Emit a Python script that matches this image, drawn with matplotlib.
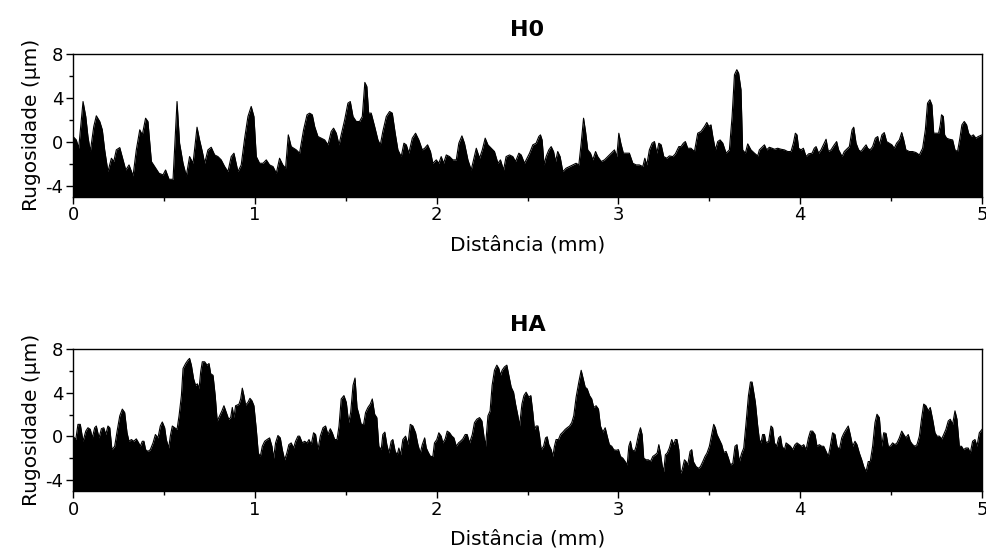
import matplotlib
matplotlib.use("Agg")
import matplotlib.pyplot as plt
from matplotlib.ticker import MultipleLocator

plt.rcParams["axes.unicode_minus"] = False

# H0 profile: distance (mm) and roughness (um)
h0_dist = [0.000, 0.018, 0.031, 0.055, 0.070, 0.082, 0.095, 0.114, 0.128, 0.147, 0.161, 0.174, 0.192, 0.211, 0.224,
           0.238, 0.257, 0.275, 0.290, 0.308, 0.330, 0.348, 0.367, 0.381, 0.399, 0.412, 0.431, 0.449, 0.473, 0.495,
           0.509, 0.528, 0.550, 0.572, 0.586, 0.605, 0.623, 0.641, 0.660, 0.682, 0.696, 0.711, 0.724, 0.742, 0.760,
           0.779, 0.797, 0.815, 0.834, 0.852, 0.870, 0.885, 0.907, 0.925, 0.944, 0.962, 0.980, 0.995, 1.008, 1.026,
           1.045, 1.063, 1.081, 1.100, 1.118, 1.136, 1.154, 1.169, 1.184, 1.200, 1.228,
           1.246, 1.268, 1.287, 1.301, 1.316, 1.329, 1.347, 1.365, 1.384, 1.402, 1.420, 1.433, 1.448, 1.463, 1.475,
           1.494, 1.512, 1.525, 1.540, 1.558, 1.576, 1.591, 1.605, 1.616, 1.626, 1.640, 1.659, 1.677, 1.690, 1.704,
           1.723, 1.741, 1.756, 1.772, 1.787, 1.805, 1.820, 1.833, 1.847, 1.866, 1.884, 1.902, 1.921, 1.934, 1.950,
           1.966, 1.979, 1.998, 2.012, 2.025, 2.038, 2.053, 2.071, 2.089, 2.108, 2.122, 2.139, 2.153, 2.172, 2.190,
           2.203, 2.218, 2.236, 2.251, 2.267, 2.282, 2.300, 2.318, 2.337, 2.351, 2.368, 2.382, 2.401, 2.419, 2.434,
           2.452, 2.465, 2.483, 2.502,
           2.511, 2.529, 2.547, 2.562, 2.571, 2.580, 2.591, 2.602, 2.617, 2.630, 2.643, 2.654, 2.666, 2.679, 2.694,
           2.712, 2.731, 2.749, 2.767, 2.782, 2.795, 2.808, 2.819, 2.831, 2.846, 2.859, 2.874, 2.886, 2.905, 2.923,
           2.941, 2.960, 2.978, 2.991, 3.002, 3.013, 3.027, 3.042, 3.060, 3.079, 3.097, 3.115, 3.134, 3.145, 3.156,
           3.170, 3.185, 3.198, 3.211, 3.222, 3.235, 3.249, 3.266, 3.280, 3.299, 3.313, 3.332, 3.344, 3.357, 3.368,
           3.381, 3.399, 3.418, 3.436, 3.454, 3.473, 3.486, 3.497, 3.509, 3.519, 3.533, 3.546, 3.559, 3.574, 3.592,
           3.610, 3.625, 3.638, 3.651, 3.661, 3.674, 3.683, 3.698, 3.711, 3.729, 3.748, 3.766,
           3.775, 3.790, 3.803, 3.815, 3.830, 3.845, 3.858, 3.876, 3.894, 3.913, 3.931, 3.949, 3.962, 3.973, 3.982,
           3.991, 4.004, 4.017, 4.032, 4.046, 4.065, 4.077, 4.087, 4.101, 4.114, 4.132, 4.142, 4.154, 4.169, 4.187,
           4.200, 4.211, 4.230, 4.242, 4.255, 4.270, 4.285, 4.294, 4.307, 4.321, 4.334, 4.347, 4.362, 4.371, 4.384,
           4.398, 4.413, 4.426, 4.435, 4.449, 4.462, 4.475, 4.490, 4.504, 4.517, 4.530, 4.545, 4.558, 4.569, 4.581,
           4.600, 4.618, 4.636, 4.655, 4.673, 4.688, 4.700, 4.713, 4.724, 4.734, 4.746, 4.761, 4.770, 4.777, 4.787,
           4.794, 4.805, 4.820, 4.838, 4.851, 4.865, 4.878, 4.889, 4.902, 4.915, 4.926, 4.939, 4.952, 4.966, 4.979,
           5.000]
h0_rug = [0.48, 0.17, -0.59, 3.67, 2.30, 0.48, -0.89, 1.39, 2.37, 1.85, 1.09, -0.74, -2.72, -1.50, -1.80,
          -0.74, -0.53, -1.65, -2.57, -2.11, -3.11, -0.74, 1.09, 0.63, 2.15, 1.85, -1.80, -2.26, -2.87, -3.02,
          -2.57, -3.42, -3.42, 3.67, -0.13, -1.96, -3.11, -1.35, -1.96, 1.33, 0.17, -0.89, -1.96, -0.74, -0.50,
          -1.20, -1.35, -1.65, -2.26, -2.72, -1.35, -1.04, -2.72, -2.11, 0.33, 2.30, 3.22, 2.30, -1.35, -1.96,
          -1.96, -1.65, -2.11, -2.26, -2.87, -1.50, -2.11, -2.41, 0.63, -0.44, -0.74,
          -1.04, 1.09, 2.46, 2.61, 2.46, 1.39, 0.48, 0.33, 0.17, -0.28, 0.94, 1.24, 0.78, -0.28, 0.63,
          2.00, 3.52, 3.67, 2.30, 1.85, 1.85, 2.30, 5.41, 5.04, 2.61, 2.61, 1.39, 0.17, -0.28, 0.94,
          2.30, 2.76, 2.61, 0.78, -0.74, -1.35, -0.13, -0.28, -1.04, 0.33, 0.78, 0.17, -0.74, -0.59, -0.28,
          -0.89, -1.96, -1.65, -1.96, -1.35, -1.96, -1.20, -1.35, -1.65, -1.65, -0.13, 0.54, -0.13, -1.65, -2.57,
          -1.65, -0.59, -1.50, -0.74, 0.33, -0.28, -0.59, -0.89, -1.96, -1.65, -2.57, -1.35, -1.20, -1.35, -1.80,
          -1.04, -1.20, -1.96, -1.35,
          -1.04, -0.28, -0.13, 0.48, 0.63, 0.17, -2.11, -1.35, -0.74, -0.44, -0.89, -1.80, -0.89, -1.35, -2.72,
          -2.41, -2.26, -2.11, -1.96, -2.11, -0.13, 2.15, 0.94, -0.74, -1.04, -1.65, -0.89, -1.35, -1.80, -1.65,
          -1.35, -1.04, -0.74, -1.35, 0.78, -0.13, -1.04, -1.04, -1.04, -1.96, -2.11, -2.11, -2.26, -1.50, -2.11,
          -0.74, -0.13, 0.02, -1.04, -0.13, -0.28, -1.35, -1.50, -1.29, -1.35, -1.10, -0.44, -0.44, -0.13, 0.02,
          -0.59, -0.59, -0.89, 0.78, 0.94, 1.39, 1.76, 1.39, 1.54, 0.48, -0.74, 0.02, 0.17, -0.13, -1.04,
          -0.74, 2.30, 6.11, 6.57, 6.26, 4.74, -0.74, -1.04, -0.19, -0.74, -1.04, -1.29,
          -0.74, -0.50, -0.28, -0.74, -0.50, -0.59, -0.68, -0.59, -0.68, -0.74, -0.89, -0.89, -0.13, 0.78, 0.63,
          -0.59, -0.74, -0.59, -1.35, -1.10, -1.04, -0.59, -0.44, -1.04, -0.74, -0.13, 0.23, -0.89, -0.74, -0.28,
          0.02, -0.74, -1.35, -0.89, -0.68, -0.44, 1.09, 1.33, -0.13, -0.74, -0.89, -0.59, -0.28, -0.59, -0.74,
          -0.44, 0.33, 0.48, -0.28, 0.63, 0.84, 0.02, -0.13, -0.28, -0.59, -0.13, 0.17, 0.84, 0.17, -0.74,
          -0.89, -0.89, -0.98, -1.20, -0.59, 1.09, 3.52, 3.83, 3.37, 0.78, 0.78, 0.78, 1.54, 2.46, 2.30,
          0.63, 0.33, 0.23, 0.17, -0.74, -0.89, 0.33, 1.54, 1.85, 1.54, 0.78, 0.48, 0.63, 0.33, 0.48,
          0.63]

# HA profile: distance (mm) and roughness (um)
ha_dist = [0.000, 0.015, 0.027, 0.040, 0.055, 0.070, 0.082, 0.095, 0.106, 0.119, 0.128, 0.143, 0.156, 0.169, 0.180,
           0.192, 0.202, 0.214, 0.229, 0.244, 0.257, 0.271, 0.284, 0.297, 0.308, 0.321, 0.334, 0.348, 0.361, 0.370,
           0.381, 0.390, 0.399, 0.412, 0.425, 0.440, 0.453, 0.467, 0.480, 0.491, 0.504, 0.513, 0.526, 0.535, 0.546,
           0.559, 0.572, 0.583, 0.596, 0.605, 0.619, 0.632, 0.641, 0.651, 0.663, 0.674, 0.684, 0.693, 0.702, 0.711,
           0.724, 0.737, 0.748, 0.757, 0.770, 0.782, 0.793, 0.806, 0.819, 0.830, 0.843, 0.856, 0.867, 0.876, 0.885,
           0.894, 0.903, 0.913, 0.922, 0.931, 0.940, 0.949, 0.962, 0.973, 0.984, 0.995, 1.008, 1.019, 1.030, 1.041,
           1.054, 1.067, 1.081, 1.094, 1.103, 1.114, 1.127, 1.140, 1.151, 1.164, 1.176, 1.187, 1.200, 1.213, 1.224,
           1.237,
           1.246, 1.261, 1.274, 1.287, 1.298, 1.310, 1.323, 1.334, 1.347, 1.360, 1.375, 1.389, 1.402, 1.415, 1.426,
           1.439, 1.452, 1.463, 1.475, 1.490, 1.503, 1.516, 1.527, 1.540, 1.551, 1.562, 1.572, 1.585, 1.598, 1.609,
           1.622, 1.635, 1.646, 1.659, 1.671, 1.682, 1.695, 1.704, 1.715, 1.726, 1.737, 1.750, 1.759, 1.772, 1.783,
           1.792, 1.802, 1.814, 1.829, 1.842, 1.855, 1.869, 1.884, 1.897, 1.910, 1.921, 1.934, 1.943, 1.954, 1.966,
           1.979, 1.988, 2.001, 2.012, 2.025, 2.034, 2.047, 2.058, 2.071, 2.084, 2.095, 2.108, 2.120, 2.131, 2.144,
           2.157, 2.168, 2.181, 2.196, 2.208, 2.221, 2.236, 2.249, 2.260, 2.269, 2.282, 2.294, 2.305, 2.318, 2.331,
           2.342, 2.351, 2.360, 2.373, 2.386, 2.397, 2.410, 2.423, 2.434, 2.447, 2.456, 2.469, 2.480, 2.492, 2.507,
           2.518,
           2.529, 2.538, 2.547, 2.557, 2.566, 2.575, 2.588, 2.599, 2.608, 2.617, 2.630, 2.639, 2.648, 2.657, 2.670,
           2.681, 2.694, 2.707, 2.718, 2.731, 2.743, 2.754, 2.767, 2.782, 2.795, 2.804, 2.817, 2.828, 2.841, 2.853,
           2.864, 2.877, 2.890, 2.901, 2.914, 2.927, 2.938, 2.950, 2.963, 2.974, 2.987, 3.000, 3.011, 3.024, 3.037,
           3.048, 3.057, 3.066, 3.075, 3.088, 3.097, 3.110, 3.121, 3.130, 3.139, 3.152, 3.165, 3.176, 3.189, 3.202,
           3.213, 3.222, 3.231, 3.240, 3.249, 3.258, 3.268, 3.280, 3.293, 3.304, 3.313, 3.322, 3.332, 3.341, 3.350,
           3.363, 3.372, 3.381, 3.394, 3.403, 3.412, 3.427, 3.440, 3.451, 3.464, 3.476, 3.487, 3.500, 3.513, 3.524,
           3.533, 3.542, 3.555, 3.568, 3.579, 3.592, 3.605, 3.616, 3.629, 3.641, 3.652, 3.665, 3.678, 3.689, 3.702,
           3.715, 3.726, 3.735, 3.744, 3.753, 3.766,
           3.775, 3.784, 3.793, 3.803, 3.812, 3.826, 3.839, 3.848, 3.858, 3.870, 3.881, 3.891, 3.900, 3.913, 3.922,
           3.935, 3.946, 3.958, 3.971, 3.982, 3.995, 4.008, 4.019, 4.032, 4.045, 4.056, 4.068, 4.081, 4.092, 4.105,
           4.118, 4.129, 4.142, 4.154, 4.165, 4.178, 4.191, 4.202, 4.215, 4.228, 4.239, 4.252, 4.264, 4.275, 4.288,
           4.301, 4.312, 4.325, 4.338, 4.349, 4.362, 4.374, 4.385, 4.398, 4.411, 4.422, 4.435, 4.448, 4.459, 4.472,
           4.484, 4.495, 4.508, 4.521, 4.532, 4.545, 4.558, 4.569, 4.581, 4.594, 4.605, 4.618, 4.631, 4.642, 4.655,
           4.668, 4.679, 4.691, 4.704, 4.715, 4.728, 4.741, 4.752, 4.765, 4.778, 4.789, 4.801, 4.814, 4.825, 4.838,
           4.851, 4.862, 4.875, 4.887, 4.898, 4.911, 4.924, 4.935, 4.948, 4.961, 4.972, 4.985, 5.000]
ha_rug = [0.03, -0.28, 1.11, 1.11, -0.44, 0.49, 0.80, 0.65, -0.13, 0.80, 0.96, -0.13, 0.71, 0.80, 0.18,
          0.96, 0.80, -1.21, -0.90, 0.65, 1.89, 2.51, 2.20, 0.34, -0.44, -0.28, -0.44, -0.22, -0.59, -0.90,
          -0.44, -0.44, -1.21, -1.37, -1.21, -0.59, 0.18, -0.13, 0.96, 1.33, 0.80, -0.28, -1.06, 0.03, 0.96,
          0.80, 0.65, 1.89, 3.75, 6.23, 6.69, 7.00, 7.16, 6.54, 5.30, 4.68, 4.83, 4.37, 5.92, 6.85,
          6.85, 6.54, 6.69, 5.76, 5.61, 3.75, 1.42, 1.89, 2.35, 2.82, 2.20, 1.58, 1.73, 2.66, 1.73,
          2.82, 2.88, 2.97, 3.44, 4.43, 3.75, 2.88, 3.13, 3.50, 3.28, 2.82, 0.65, -1.52, -1.83, -0.90,
          -0.44, -0.28, -0.13, -0.90, -1.99, -0.59, 0.09, -0.13, -1.21, -2.14, -1.52, -0.75, -0.59, -1.06, -0.44,
          0.03,
          0.03, -0.59, -0.44, -0.59, -0.28, -0.75, 0.34, 0.18, -1.21, 0.03, 0.80, 0.96, 0.18, 0.71, 0.34,
          -0.28, -0.28, 0.96, 3.44, 3.75, 3.13, 1.27, 2.20, 4.68, 5.36, 2.66, 2.04, 1.11, 1.11, 2.20,
          2.66, 2.97, 3.44, 2.04, 1.73, -0.90, -1.21, 0.18, 0.40, -0.75, -1.52, -0.44, -0.28, -1.37, -1.68,
          -1.06, -1.68, -0.28, 0.03, -0.75, 1.11, 0.96, 0.34, -0.75, -1.52, -0.75, -0.13, -1.06, -1.46, -1.83,
          -1.83, -0.59, -0.28, 0.34, 0.03, -0.59, -0.22, 0.49, 0.34, 0.03, -0.13, -0.90, -0.59, -0.44, -0.22,
          0.18, 0.18, -0.59, 0.18, 1.27, 1.58, 1.73, 1.42, 0.03, -0.90, 1.89, 2.35, 4.68, 6.07, 6.54,
          6.23, 5.61, 6.07, 6.38, 6.54, 5.61, 4.52, 4.06, 2.97, 1.89, 0.96, 2.97, 3.75, 4.06, 3.59,
          3.75,
          2.20, 0.65, 0.96, 0.96, 0.03, -1.21, -0.90, -0.13, -0.03, -0.75, -1.21, -1.83, -0.90, -0.28, -0.28,
          0.18, 0.40, 0.65, 0.80, 0.96, 1.27, 1.89, 3.59, 4.99, 6.07, 5.45, 4.52, 4.37, 3.75, 3.44,
          2.66, 2.82, 2.51, 0.96, 0.40, 0.80, 0.03, -0.75, -0.90, -1.21, -1.27, -1.21, -1.83, -1.99, -2.30,
          -2.61, -0.90, -0.44, -1.21, -1.37, -0.90, 0.18, 0.80, 0.18, -1.99, -2.14, -2.14, -2.30, -1.83, -1.68,
          -1.52, -0.75, -1.52, -2.61, -3.23, -1.68, -1.52, -1.06, -0.28, -0.75, -0.28, -0.28, -1.21, -3.38, -3.07,
          -2.14, -2.30, -2.61, -1.37, -1.21, -2.30, -2.76, -2.92, -2.76, -2.30, -1.83, -1.52, -0.90, 0.18, 1.11,
          0.80, 0.18, -0.28, -0.75, -1.46, -1.37, -1.99, -2.61, -2.45, -0.90, -0.75, -2.30, -1.52, -1.06, 1.27,
          3.75, 4.99, 4.99, 4.06, 3.13, 0.96,
          -0.28, -0.59, 0.18, 0.18, -0.59, -0.44, 0.96, 0.80, -0.59, -0.90, -0.13, 0.03, -0.90, -1.21, -0.59,
          -0.75, -0.90, -1.21, -0.75, -0.59, -0.75, -0.90, -0.75, -1.21, -0.13, 0.49, 0.49, 0.18, -0.90, -0.75,
          -0.90, -0.90, -1.37, -1.83, -0.90, 0.34, 0.18, -0.90, -1.21, -0.13, 0.28, 0.65, 0.96, 0.18, -0.90,
          -0.44, -0.75, -1.52, -2.14, -2.76, -3.23, -2.30, -2.30, -0.90, 1.27, 2.04, 1.73, -0.90, 0.34, 0.28,
          -0.90, -0.90, -0.59, -0.75, -0.59, -0.13, 0.49, 0.18, -0.13, 0.18, -0.44, -0.75, -0.90, -0.75, 0.03,
          1.73, 2.97, 2.82, 2.35, 2.66, 1.58, 0.34, 0.03, 0.03, -0.22, 0.18, 0.65, 1.42, 1.58, 1.11,
          2.35, 1.58, -0.90, -0.90, -1.21, -1.06, -1.06, -1.52, -0.44, -0.28, -0.90, 0.34, 0.65]

titles = ["H0", "HA"]
x_label = "Distância (mm)"
y_label = "Rugosidade (μm)"
x_ticks = [0, 1, 2, 3, 4, 5]
y_ticks = [-4, 0, 4, 8]

fig = plt.figure(figsize=(9.87, 5.57), dpi=100)
ax1 = fig.add_axes([0.074, 0.647, 0.921, 0.256])
ax2 = fig.add_axes([0.074, 0.1185, 0.921, 0.2545])

for ax, xs, ys, title in [(ax1, h0_dist, h0_rug, titles[0]), (ax2, ha_dist, ha_rug, titles[1])]:
    ax.fill_between(xs, -5, ys, color="black", linewidth=0)
    ax.plot(xs, ys, color="black", linewidth=0.8)
    ax.set_xlim(0, 5)
    ax.set_ylim(-5, 8)
    ax.set_xticks(x_ticks)
    ax.set_yticks(y_ticks)
    ax.xaxis.set_minor_locator(MultipleLocator(0.5))
    ax.yaxis.set_minor_locator(MultipleLocator(2))
    ax.tick_params(which="major", direction="out", length=5, width=1, labelsize=13, pad=2)
    ax.tick_params(which="minor", direction="out", length=3, width=1)
    for s in ax.spines.values():
        s.set_linewidth(1)
    ax.set_title(title, fontsize=16, fontweight="bold", pad=13)
    ax.set_xlabel(x_label, fontsize=14.5, labelpad=8)
    ax.set_ylabel(y_label, fontsize=14.5, labelpad=3)

fig.savefig("out.png", dpi=100)
